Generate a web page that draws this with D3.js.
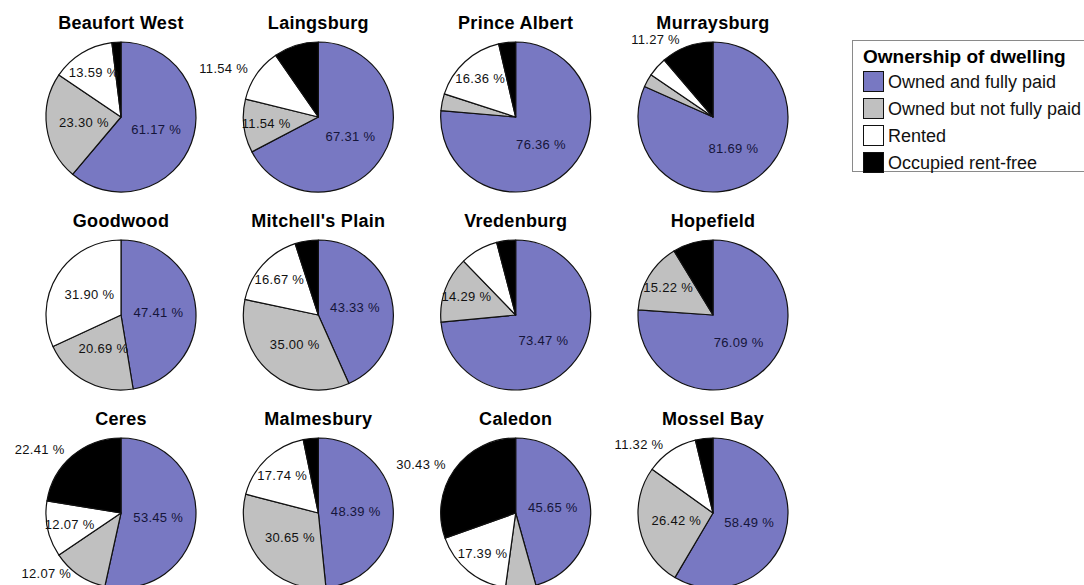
<!DOCTYPE html>
<html>
<head>
<meta charset="utf-8">
<script src="https://cdn.jsdelivr.net/npm/d3@7"></script>
<style>
  html, body { margin: 0; padding: 0; background: #fff; }
  svg { display: block; }
  text { font-family: "Liberation Sans", Arial, sans-serif; }
</style>
</head>
<body>
<svg id="chart" width="1084" height="585"></svg>
<script>
// Dwelling ownership by town (percent of households)
const towns = [
  "Beaufort West", "Laingsburg", "Prince Albert", "Murraysburg",
  "Goodwood", "Mitchell's Plain", "Vredenburg", "Hopefield",
  "Ceres", "Malmesbury", "Caledon", "Mossel Bay"
];
const categories = [
  "Owned and fully paid", "Owned but not fully paid", "Rented", "Occupied rent-free"
];
const ownedFullyPaid    = [61.17, 67.31, 76.36, 81.69, 47.41, 43.33, 73.47, 76.09, 53.45, 48.39, 45.65, 58.49];
const ownedNotFullyPaid = [23.30, 11.54,  3.64,  2.82, 20.69, 35.00, 14.29, 15.22, 12.07, 30.65,  6.52, 26.42];
const rented            = [13.59, 11.54, 16.36,  4.23, 31.90, 16.67,  8.16,  0.00, 12.07, 17.74, 17.39, 11.32];
const occupiedRentFree  = [ 1.94,  9.62,  3.64, 11.27,  0.00,  5.00,  4.08,  8.70, 22.41,  3.23, 30.43,  3.77];
const legendTitle = "Ownership of dwelling";

// Slices whose value labels sit outside the pie: [town, category index]
const outsideLabels = [
  ["Laingsburg", 2], ["Murraysburg", 3], ["Ceres", 1], ["Ceres", 3],
  ["Caledon", 3], ["Mossel Bay", 2]
];

const colors = ["#7878c2", "#c0c0c0", "#ffffff", "#000000"];

const series = [ownedFullyPaid, ownedNotFullyPaid, rented, occupiedRentFree];
const data = towns.map((t, i) => ({
  town: t,
  slices: categories.map((c, k) => ({ cat: k, value: series[k][i] }))
}));

const svg = d3.select("#chart");
svg.append("rect").attr("width", 1084).attr("height", 585).attr("fill", "#fff");

const radius = 75;
const colX = d3.scalePoint().domain(d3.range(4)).range([121, 713]);
const rowY = d3.scalePoint().domain(d3.range(3)).range([117, 513]);
const color = d3.scaleOrdinal().domain(d3.range(4)).range(colors);
const fmt = d3.format(".2f");

const pie = d3.pie().sort(null).value(d => d.value);
const arc = d3.arc().innerRadius(0).outerRadius(radius);

const cells = svg.selectAll("g.cell").data(data).join("g")
  .attr("class", "cell")
  .attr("transform", (d, i) => `translate(${colX(i % 4)},${rowY(Math.floor(i / 4))})`);

cells.append("text")
  .attr("class", "title")
  .attr("x", 0).attr("y", -88)
  .attr("text-anchor", "middle")
  .attr("font-size", 18).attr("font-weight", "bold")
  .attr("letter-spacing", 0.3)
  .attr("fill", "#000")
  .text(d => d.town);

cells.each(function (d) {
  const g = d3.select(this);
  const arcs = pie(d.slices).filter(a => a.data.value > 0);

  g.selectAll("path").data(arcs).join("path")
    .attr("d", arc)
    .attr("fill", a => color(a.data.cat))
    .attr("stroke", "#111")
    .attr("stroke-width", 1.2)
    .attr("stroke-linejoin", "round");

  const labelled = arcs.filter(a => a.data.value >= 10);
  g.selectAll("text.val").data(labelled).join("text")
    .attr("class", "val")
    .each(function (a) {
      const mid = (a.startAngle + a.endAngle) / 2;
      const outside = outsideLabels.some(o => o[0] === d.town && o[1] === a.data.cat);
      const f = outside ? 1.04 : (a.data.value >= 20 ? 0.5 : 0.7);
      const x = Math.sin(mid) * radius * f;
      const y = -Math.cos(mid) * radius * f;
      d3.select(this)
        .attr("x", outside ? x - 6 : x)
        .attr("y", outside ? y - 4 : y)
        .attr("dy", "0.35em")
        .attr("text-anchor", outside ? "end" : "middle");
    })
    .attr("font-size", 13)
    .attr("letter-spacing", 0.3)
    .attr("fill", a => a.data.cat === 0 ? "#15153a" : "#111")
    .text(a => fmt(a.data.value) + " %");
});

// Legend
const legend = svg.append("g").attr("transform", "translate(852,40)");
legend.append("rect")
  .attr("x", 0.5).attr("y", 0.5)
  .attr("width", 232).attr("height", 131)
  .attr("fill", "#fff").attr("stroke", "#8a8a8a");
legend.append("text")
  .attr("x", 11).attr("y", 23)
  .attr("font-size", 19).attr("font-weight", "bold")
  .attr("fill", "#000")
  .text(legendTitle);
const items = legend.selectAll("g.item").data(categories).join("g")
  .attr("class", "item")
  .attr("transform", (c, i) => `translate(11,${31 + i * 27})`);
items.append("rect")
  .attr("x", 0.5).attr("y", 0.5)
  .attr("width", 20).attr("height", 20)
  .attr("fill", (c, i) => color(i))
  .attr("stroke", "#111");
items.append("text")
  .attr("x", 25).attr("y", 11)
  .attr("dy", "0.35em")
  .attr("font-size", 18)
  .attr("fill", "#111")
  .text(c => c);
</script>
</body>
</html>
